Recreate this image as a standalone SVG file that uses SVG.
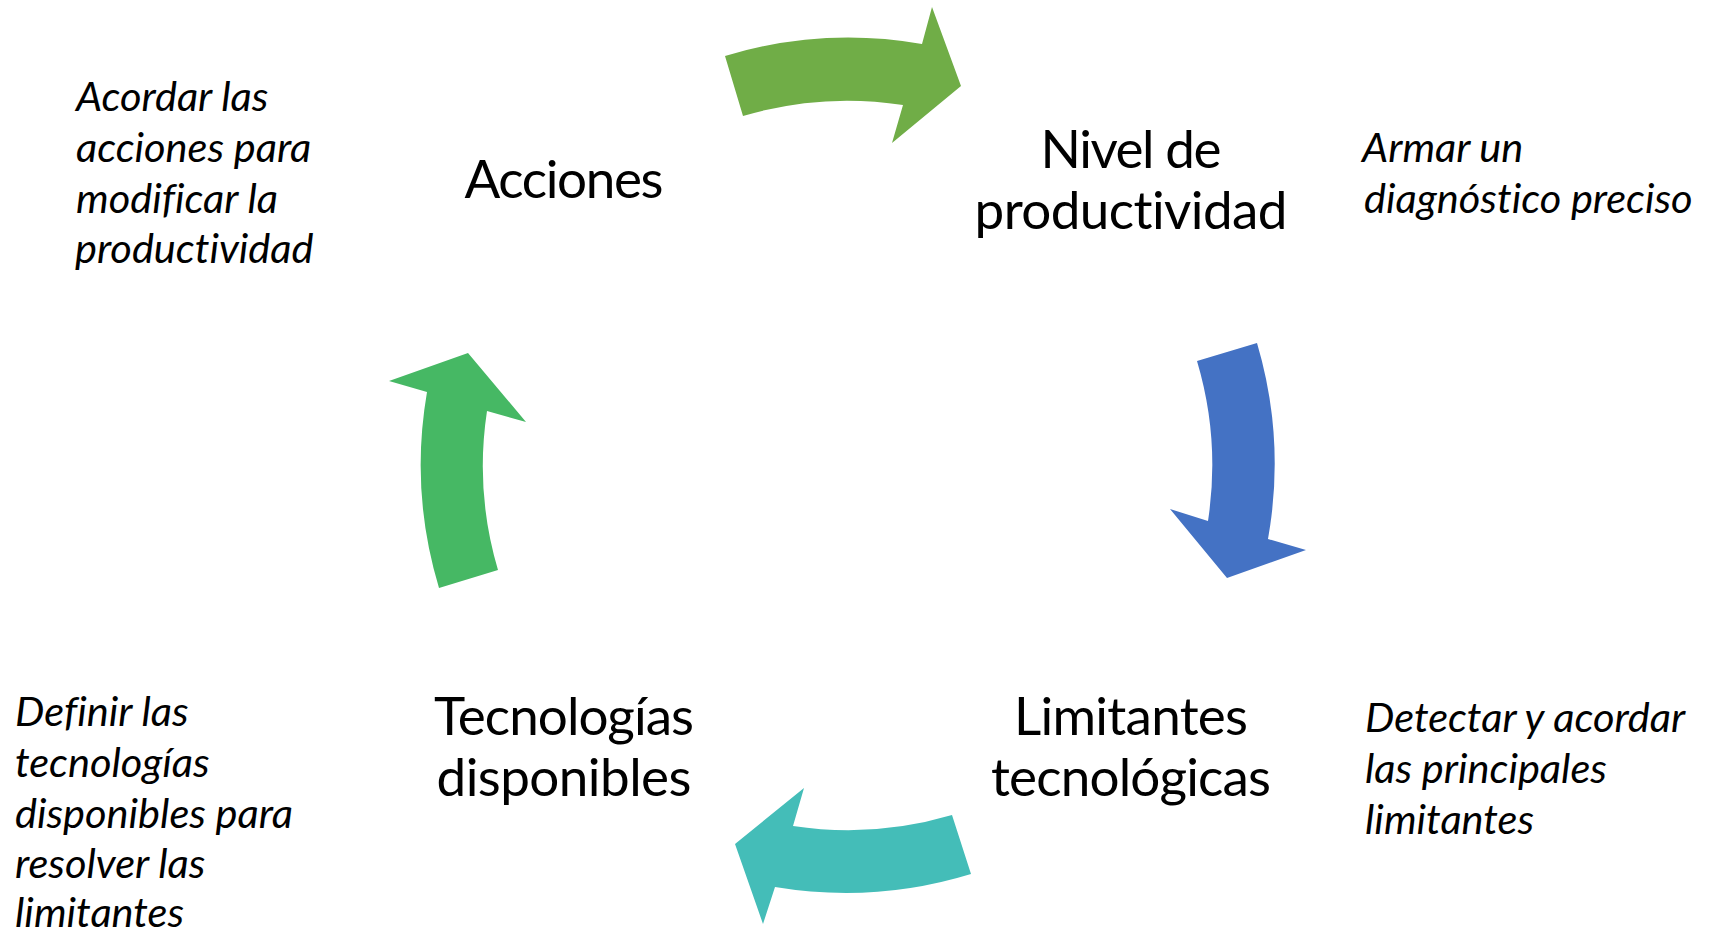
<svg xmlns="http://www.w3.org/2000/svg" width="1714" height="936" viewBox="0 0 1714 936">
<style>
.lbl{font-family:Lato,"Open Sans","Liberation Sans",sans-serif;font-size:53px;fill:#000;text-anchor:middle;font-variant-ligatures:none}
.note{font-family:Lato,"Open Sans","Liberation Sans",sans-serif;font-size:41.5px;font-style:italic;fill:#000;font-variant-ligatures:none}
</style>
<rect width="1714" height="936" fill="#fff"/>
<g id="connectors">
<path id="arrow-top" fill="#70AD47" d="M725,56 A427,427 0 0 1 922,44 L932,7 L961,86 L892,143 L903,105 A366,366 0 0 0 743,116 Z"/>
<path id="arrow-right" fill="#4472C4" d="M1197,361 L1257,343 A427,427 0 0 1 1268,539 L1306,550 L1227,578 L1170,509 L1208,521 A366,366 0 0 0 1197,361 Z"/>
<path id="arrow-bottom" fill="#44BDB8" d="M952,815 L971,874 A427,427 0 0 1 775,887 L763,924 L735,844 L804,788 L793,826 A366,366 0 0 0 952,815 Z"/>
<path id="arrow-left" fill="#46B864" d="M498,570 L439,588 A427,427 0 0 1 427,392 L389,381 L468,353 L526,422 L487,411 A366,366 0 0 0 498,570 Z"/>
</g>
<g id="node-acciones">
<text class="lbl" x="564" y="198" textLength="199">Acciones</text>
</g>
<g id="node-nivel">
<text class="lbl" x="1131" y="168" textLength="181">Nivel de</text>
<text class="lbl" x="1131" y="229" textLength="313">productividad</text>
</g>
<g id="node-limitantes">
<text class="lbl" x="1131" y="735" textLength="234">Limitantes</text>
<text class="lbl" x="1131" y="796" textLength="280">tecnológicas</text>
</g>
<g id="node-tecnologias">
<text class="lbl" x="564" y="735" textLength="260">Tecnologías</text>
<text class="lbl" x="564" y="796" textLength="255">disponibles</text>
</g>
<g id="note-acciones">
<text class="note" x="76" y="111">Acordar las</text>
<text class="note" x="76" y="162">acciones para</text>
<text class="note" x="76" y="213">modificar la</text>
<text class="note" x="75" y="263">productividad</text>
</g>
<g id="note-nivel">
<text class="note" x="1362" y="162">Armar un</text>
<text class="note" x="1364" y="213">diagnóstico preciso</text>
</g>
<g id="note-limitantes">
<text class="note" x="1365" y="732">Detectar y acordar</text>
<text class="note" x="1365" y="783">las principales</text>
<text class="note" x="1365" y="834">limitantes</text>
</g>
<g id="note-tecnologias">
<text class="note" x="15" y="726">Definir las</text>
<text class="note" x="15" y="777">tecnologías</text>
<text class="note" x="15" y="828">disponibles para</text>
<text class="note" x="15" y="878">resolver las</text>
<text class="note" x="15" y="927">limitantes</text>
</g>
</svg>
